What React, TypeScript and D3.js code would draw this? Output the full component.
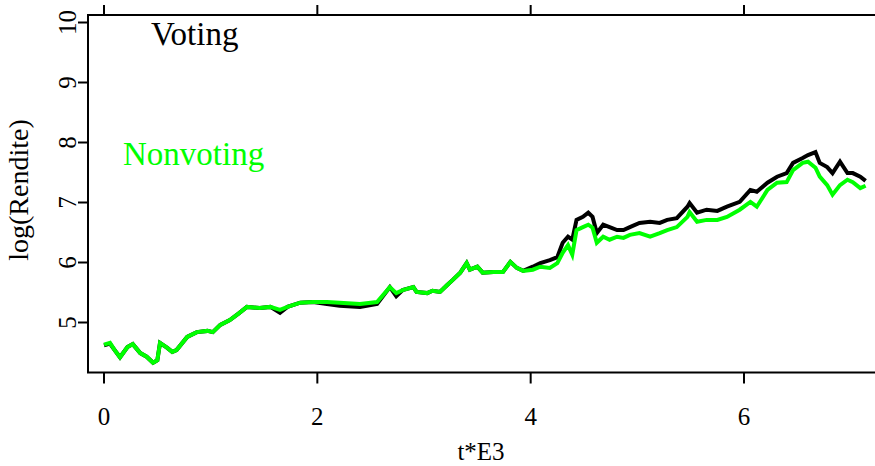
import React from "react";
import * as d3 from "d3";

// time axis (t*E3) and log return series
const times = [
  0.0, 0.056, 0.1, 0.15, 0.22, 0.27, 0.34, 0.4, 0.46, 0.5, 0.525, 0.59, 0.64, 0.68, 0.78, 0.87, 0.97,
  1.02, 1.09, 1.18, 1.27, 1.34, 1.46, 1.56, 1.65, 1.72, 1.84, 1.96, 2.09, 2.21, 2.4, 2.56, 2.68,
  2.74, 2.8, 2.9, 2.93, 3.03, 3.08, 3.15, 3.22, 3.27, 3.34, 3.4, 3.43, 3.5, 3.55, 3.65, 3.74, 3.81,
  3.87, 3.93, 4.02, 4.09, 4.18, 4.25, 4.3, 4.35, 4.39, 4.43, 4.49, 4.54, 4.58, 4.62, 4.68, 4.74,
  4.81, 4.87, 4.93, 5.02, 5.12, 5.21, 5.28, 5.37, 5.47, 5.49, 5.56, 5.65, 5.75, 5.84, 5.96, 6.06,
  6.12, 6.22, 6.31, 6.4, 6.46, 6.55, 6.6, 6.67, 6.71, 6.78, 6.83, 6.9, 6.97, 7.02, 7.09, 7.14,
];

const voting = [
  4.62, 4.65, 4.54, 4.42, 4.59, 4.64, 4.49, 4.43, 4.33, 4.37, 4.66, 4.58, 4.51, 4.54, 4.76, 4.84, 4.86,
  4.84, 4.96, 5.04, 5.16, 5.26, 5.24, 5.26, 5.16, 5.26, 5.33, 5.34, 5.31, 5.28, 5.26, 5.31, 5.59,
  5.44, 5.54, 5.59, 5.51, 5.49, 5.53, 5.51, 5.63, 5.71, 5.83, 5.99, 5.88, 5.93, 5.83, 5.84, 5.84, 6.01,
  5.91, 5.86, 5.93, 5.99, 6.04, 6.09, 6.33, 6.43, 6.38, 6.71, 6.76, 6.83, 6.76, 6.49, 6.63, 6.59,
  6.54, 6.54, 6.59, 6.66, 6.68, 6.66, 6.71, 6.74, 6.93, 6.99, 6.83, 6.88, 6.86, 6.93, 7.01, 7.21,
  7.18, 7.33, 7.43, 7.49, 7.66, 7.74, 7.79, 7.84, 7.66, 7.59, 7.49, 7.68, 7.49, 7.49, 7.43, 7.36,
];

const nonvoting = [
  4.63, 4.66, 4.54, 4.42, 4.59, 4.64, 4.49, 4.43, 4.33, 4.37, 4.66, 4.58, 4.51, 4.54, 4.76, 4.84, 4.86,
  4.84, 4.96, 5.04, 5.16, 5.26, 5.24, 5.26, 5.21, 5.26, 5.33, 5.34, 5.34, 5.33, 5.31, 5.34, 5.59,
  5.49, 5.54, 5.59, 5.51, 5.49, 5.53, 5.51, 5.63, 5.71, 5.83, 5.99, 5.88, 5.93, 5.83, 5.84, 5.84, 6.01,
  5.91, 5.86, 5.88, 5.93, 5.91, 5.99, 6.16, 6.29, 6.13, 6.54, 6.59, 6.63, 6.58, 6.33, 6.43, 6.38,
  6.43, 6.41, 6.46, 6.49, 6.43, 6.49, 6.54, 6.59, 6.76, 6.84, 6.68, 6.71, 6.71, 6.76, 6.88, 7.01,
  6.93, 7.21, 7.33, 7.34, 7.54, 7.66, 7.68, 7.58, 7.43, 7.29, 7.13, 7.29, 7.38, 7.34, 7.24, 7.28,
];

const xTicks = [0, 2, 4, 6];
const yTicks = [5, 6, 7, 8, 9, 10];

const W = 875;
const H = 466;
const FONT = "Liberation Serif";

export default function App() {
  const x = d3.scaleLinear().domain([0, 6]).range([104, 744]);
  const y = d3.scaleLinear().domain([5, 10]).range([322.5, 22.5]);
  const left = 88;
  const top = 15;
  const bottom = 372.5;
  const right = W;

  const line = d3
    .line<number>()
    .x((_, i) => x(times[i]))
    .y((d) => y(d));

  const txt = { fontFamily: FONT };

  return (
    <svg
      width={W}
      height={H}
      style={{ position: "absolute", left: 0, top: 0, background: "#fff" }}
    >
      {/* frame */}
      <g stroke="#000" strokeWidth={2} fill="none">
        <line x1={left} y1={top} x2={left} y2={bottom} />
        <line x1={left - 1} y1={top} x2={right} y2={top} />
        <line x1={left - 1} y1={bottom} x2={right} y2={bottom} />
        {xTicks.map((t) => (
          <g key={t}>
            <line x1={x(t)} x2={x(t)} y1={bottom} y2={bottom + 11} />
            <line x1={x(t)} x2={x(t)} y1={top} y2={top - 10} />
          </g>
        ))}
        {yTicks.map((t) => (
          <line key={t} x1={left} x2={left - 10} y1={y(t)} y2={y(t)} />
        ))}
      </g>

      {/* tick labels */}
      {xTicks.map((t) => (
        <text key={t} x={x(t)} y={425} fontSize={25} textAnchor="middle" fill="#000" style={txt}>
          {t}
        </text>
      ))}
      {yTicks.map((t) => (
        <text
          key={t}
          transform={`translate(76,${y(t)}) rotate(-90)`}
          fontSize={25}
          textAnchor="middle"
          fill="#000"
          style={txt}
        >
          {t}
        </text>
      ))}

      {/* axis titles */}
      <text x={481} y={460} fontSize={25} textAnchor="middle" fill="#000" style={txt}>
        t*E3
      </text>
      <text
        transform="translate(28,190) rotate(-90)"
        fontSize={28}
        textAnchor="middle"
        fill="#000"
        style={txt}
      >
        log(Rendite)
      </text>

      {/* series */}
      <path d={line(voting) ?? ""} fill="none" stroke="#000" strokeWidth={4} strokeLinejoin="miter" />
      <path d={line(nonvoting) ?? ""} fill="none" stroke="#00ff00" strokeWidth={4} strokeLinejoin="miter" />

      {/* series labels */}
      <text x={151} y={45} fontSize={33} fill="#000" style={txt}>
        Voting
      </text>
      <text x={123} y={165} fontSize={33} fill="#00ff00" style={txt}>
        Nonvoting
      </text>
    </svg>
  );
}
